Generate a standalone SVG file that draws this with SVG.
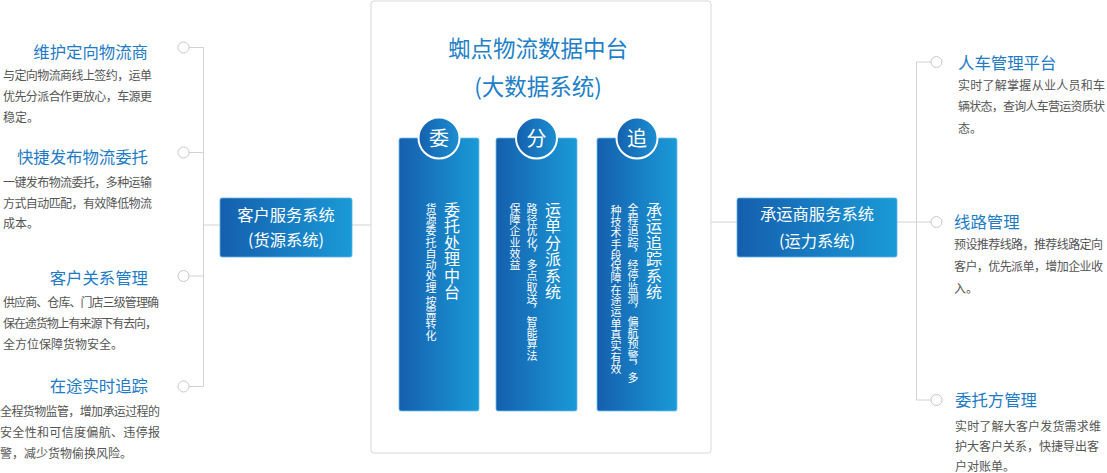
<svg xmlns="http://www.w3.org/2000/svg" width="1107" height="473" viewBox="0 0 1107 473">
<defs>
<linearGradient id="gb" x1="0" y1="0" x2="1" y2="0">
<stop offset="0" stop-color="#155fad"/>
<stop offset="1" stop-color="#1a9ad7"/>
</linearGradient>
<linearGradient id="gc" x1="0" y1="0" x2="1" y2="0">
<stop offset="0" stop-color="#1560ae"/>
<stop offset="1" stop-color="#1b8fd1"/>
</linearGradient>
<style>
text{font-family:"Noto Sans CJK SC","Noto Sans",sans-serif}
.ln{stroke:#d2d2d2;stroke-width:1;fill:none}
.dot{fill:#fff;stroke:#c8c8c8;stroke-width:1}
.ttl{font-size:16.4px;fill:#1e7bc6}
.body{font-size:12px;fill:#555}
.sys{fill:url(#gb);stroke:#5db3e6;stroke-width:0.8}
.syst{font-size:16.3px;fill:#fff;text-anchor:middle}
.bar{fill:url(#gb);stroke:#6cc0ee;stroke-width:0.8}
.cir{fill:url(#gc);stroke:#fff;stroke-width:2}
.cirt{font-size:20px;fill:#fff;text-anchor:middle}
.vt{writing-mode:vertical-rl;fill:#fff}
.vt1{font-size:16px;letter-spacing:0.4px}
.vt2{font-size:11px;letter-spacing:0.3px}
</style>
</defs>
<rect width="1107" height="473" fill="#fff"/>

<g id="connectors">
<path class="ln" d="M203.5 47.5V386.5M189 47.5H203.5M189 152.5H203.5M189 276H203.5M189 386.5H203.5M203.5 225H220M352 225H371"/>
<path class="ln" d="M916.5 62V400M916.5 62H931M916.5 400H931M711 222H737M897 222H931"/>
</g>

<g id="left-dots">
<circle class="dot" cx="183.5" cy="47.5" r="5.5"/>
<circle class="dot" cx="183.5" cy="152.5" r="5.5"/>
<circle class="dot" cx="183.5" cy="276" r="5.5"/>
<circle class="dot" cx="183.5" cy="386.5" r="5.5"/>
</g>
<g id="right-dots">
<circle class="dot" cx="936.5" cy="62" r="5.5"/>
<circle class="dot" cx="936.5" cy="222" r="5.5"/>
<circle class="dot" cx="936.5" cy="400" r="5.5"/>
</g>

<g id="left-1">
<text class="ttl" x="148" y="58" text-anchor="end">维护定向物流商</text>
<text class="body" x="3" y="79.6" textLength="149" lengthAdjust="spacing">与定向物流商线上签约，运单</text>
<text class="body" x="3" y="101.3" textLength="149" lengthAdjust="spacing">优先分派合作更放心，车源更</text>
<text class="body" x="3" y="122">稳定。</text>
</g>
<g id="left-2">
<text class="ttl" x="148" y="163" text-anchor="end">快捷发布物流委托</text>
<text class="body" x="3" y="187" textLength="149" lengthAdjust="spacing">一键发布物流委托，多种运输</text>
<text class="body" x="3" y="208" textLength="149" lengthAdjust="spacing">方式自动匹配，有效降低物流</text>
<text class="body" x="3" y="228">成本。</text>
</g>
<g id="left-3">
<text class="ttl" x="148" y="284" text-anchor="end">客户关系管理</text>
<text class="body" x="3" y="307" textLength="156" lengthAdjust="spacing">供应商、仓库、门店三级管理确</text>
<text class="body" x="3" y="328" textLength="154" lengthAdjust="spacing">保在途货物上有来源下有去向，</text>
<text class="body" x="3" y="349">全方位保障货物安全。</text>
</g>
<g id="left-4">
<text class="ttl" x="148" y="392" text-anchor="end">在途实时追踪</text>
<text class="body" x="0" y="415.6" textLength="160" lengthAdjust="spacing">全程货物监管，增加承运过程的</text>
<text class="body" x="0" y="437" textLength="160" lengthAdjust="spacing">安全性和可信度偏航、违停报</text>
<text class="body" x="0" y="458">警，减少货物偷换风险。</text>
</g>

<g id="customer-system">
<rect class="sys" x="220" y="198" width="132" height="59" rx="2"/>
<text class="syst" x="286" y="221">客户服务系统</text>
<text class="syst" x="286" y="246">(货源系统)</text>
</g>

<g id="carrier-system">
<rect class="sys" x="737" y="198" width="160" height="59" rx="2"/>
<text class="syst" x="817" y="220">承运商服务系统</text>
<text class="syst" x="817" y="247">(运力系统)</text>
</g>

<g id="data-center">
<rect x="371" y="1" width="340" height="452" rx="3" fill="#fff" stroke="#d8d8d8" stroke-width="1"/>
<text x="538" y="57" font-size="22.5" fill="#2280c8" text-anchor="middle">蜘点物流数据中台</text>
<text x="538" y="95" font-size="22.5" fill="#2280c8" text-anchor="middle">(大数据系统)</text>
</g>

<g id="bar-wei">
<rect class="bar" x="399" y="138" width="80" height="273" rx="2"/>
<circle class="cir" cx="439" cy="138" r="20.5"/>
<text class="cirt" x="439" y="145.6">委</text>
<text class="vt vt1" x="452" y="202">委托处理中台</text>
<text class="vt vt2" x="431" y="203">货源委托自动处理 按需转化</text>
</g>

<g id="bar-fen">
<rect class="bar" x="496" y="138" width="81" height="273" rx="2"/>
<circle class="cir" cx="536.5" cy="138" r="20.5"/>
<text class="cirt" x="536.5" y="145.6">分</text>
<text class="vt vt1" x="553" y="202">运单分派系统</text>
<text class="vt vt2" x="532" y="203">路径优化，多点取送，智能算法</text>
<text class="vt vt2" x="515" y="203">保障企业效益</text>
</g>

<g id="bar-zhui">
<rect class="bar" x="597" y="138" width="80" height="273" rx="2"/>
<circle class="cir" cx="637" cy="138" r="20.5"/>
<text class="cirt" x="637" y="145.6">追</text>
<text class="vt vt1" x="654" y="202">承运追踪系统</text>
<text class="vt vt2" x="633" y="203">全程追踪，经停监测，偏航预警，多</text>
<text class="vt vt2" x="616" y="205">种技术手段保障在途运单真实有效</text>
</g>

<g id="right-1">
<text class="ttl" x="958" y="69">人车管理平台</text>
<text class="body" x="958" y="89.6" textLength="147" lengthAdjust="spacing">实时了解掌握从业人员和车</text>
<text class="body" x="958" y="111" textLength="147" lengthAdjust="spacing">辆状态，查询人车营运资质状</text>
<text class="body" x="958" y="132.6">态。</text>
</g>
<g id="right-2">
<text class="ttl" x="954" y="228">线路管理</text>
<text class="body" x="954" y="248.6" textLength="149" lengthAdjust="spacing">预设推荐线路，推荐线路定向</text>
<text class="body" x="954" y="270.6" textLength="149" lengthAdjust="spacing">客户，优先派单，增加企业收</text>
<text class="body" x="954" y="292.6">入。</text>
</g>
<g id="right-3">
<text class="ttl" x="955" y="406">委托方管理</text>
<text class="body" x="955" y="430.6" textLength="146" lengthAdjust="spacing">实时了解大客户发货需求维</text>
<text class="body" x="955" y="451.3" textLength="144" lengthAdjust="spacing">护大客户关系，快捷导出客</text>
<text class="body" x="955" y="471.3">户对账单。</text>
</g>
</svg>
